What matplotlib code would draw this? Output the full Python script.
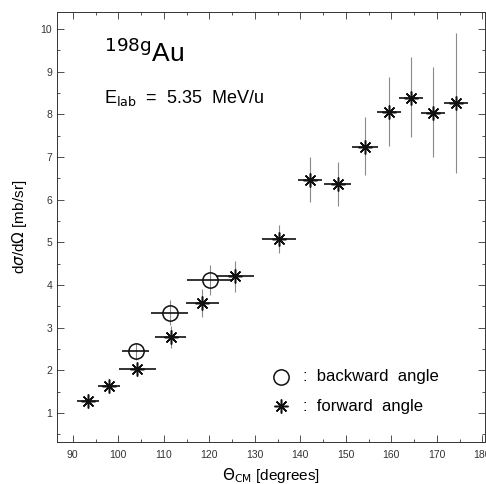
import matplotlib.pyplot as plt
from matplotlib import rcParams
from matplotlib.ticker import MultipleLocator

rcParams['font.family'] = ['Liberation Sans', 'DejaVu Sans']

# forward angle data (stars)
fwd_theta = [93.3, 97.9, 104.2, 111.5, 118.5, 125.6, 135.3, 142.1, 148.2, 154.2, 159.5, 164.3, 169.1, 174.2]
fwd_sigma = [1.29, 1.62, 2.04, 2.78, 3.58, 4.20, 5.07, 6.46, 6.37, 7.24, 8.06, 8.38, 8.03, 8.27]
fwd_xerr = [2.4, 2.4, 4.0, 3.4, 3.6, 4.2, 3.7, 2.7, 3.0, 2.8, 2.6, 2.6, 2.6, 2.6]
fwd_ylo = [0.12, 0.10, 0.12, 0.25, 0.33, 0.37, 0.33, 0.51, 0.52, 0.66, 0.80, 0.91, 1.03, 1.64]
fwd_yhi = [0.15, 0.10, 0.12, 0.25, 0.33, 0.37, 0.33, 0.54, 0.52, 0.70, 0.82, 0.96, 1.08, 1.63]

# backward angle data (circles)
bwd_theta = [103.8, 111.3, 120.1]
bwd_sigma = [2.44, 3.35, 4.12]
bwd_xerr = [3.0, 4.0, 5.0]
bwd_yerr = [0.2, 0.3, 0.35]

fig = plt.figure(figsize=(4.86, 4.84), dpi=100)
ax = fig.add_axes([0.117, 0.087, 0.88, 0.888])

# vertical error bars (thin, grey)
ax.errorbar(fwd_theta, fwd_sigma, yerr=[fwd_ylo, fwd_yhi], fmt='none',
            ecolor='#8a8a8a', elinewidth=0.8, capsize=0)
ax.errorbar(bwd_theta, bwd_sigma, yerr=bwd_yerr, fmt='none',
            ecolor='#8a8a8a', elinewidth=0.8, capsize=0)
# horizontal error bars
ax.errorbar(fwd_theta, fwd_sigma, xerr=fwd_xerr, fmt='none',
            ecolor='#111111', elinewidth=1.2, capsize=0)
ax.errorbar(bwd_theta, bwd_sigma, xerr=bwd_xerr, fmt='none',
            ecolor='#111111', elinewidth=1.2, capsize=0)

ax.plot(fwd_theta, fwd_sigma, ls='none', marker=(8, 2, 0), ms=10,
        mec='#111111', mew=1.1, color='#111111')
ax.plot(bwd_theta, bwd_sigma, ls='none', marker='o', ms=11,
        mfc='none', mec='#111111', mew=1.1)

ax.set_xlim(86.5, 180.5)
ax.set_ylim(0.32, 10.4)
ax.xaxis.set_major_locator(MultipleLocator(10))
ax.xaxis.set_minor_locator(MultipleLocator(5))
ax.yaxis.set_major_locator(MultipleLocator(1))
ax.yaxis.set_minor_locator(MultipleLocator(0.5))
ax.tick_params(which='both', direction='in', top=True, right=True,
               labelsize=7.5, colors='#333333', width=0.6)
ax.tick_params(which='major', length=5)
ax.tick_params(which='minor', length=2.5)
ax.tick_params(axis='x', pad=6)
for s in ax.spines.values():
    s.set_linewidth(0.7)
    s.set_color('#333333')

ax.set_xlabel(r'$\Theta_{\mathrm{CM}}$ [degrees]', fontsize=11, labelpad=4)
ax.set_ylabel(r'd$\sigma$/d$\Omega$ [mb/sr]', fontsize=11, labelpad=8)

ax.text(0.11, 0.905, r'$^{\mathrm{198g}}$Au', transform=ax.transAxes,
        fontsize=19, va='center', ha='left')
ax.text(0.11, 0.80, r'E$_{\mathrm{lab}}$  =  5.35  MeV/u', transform=ax.transAxes,
        fontsize=13, va='center', ha='left')

# legend
ax.plot([0.525], [0.152], transform=ax.transAxes, marker='o', ms=11,
        mfc='none', mec='#111111', mew=1.1, clip_on=False)
ax.plot([0.525], [0.083], transform=ax.transAxes, marker=(8, 2, 0), ms=10,
        mec='#111111', mew=1.1)
ax.text(0.575, 0.152, ':  backward  angle', transform=ax.transAxes,
        fontsize=12, va='center', ha='left')
ax.text(0.575, 0.083, ':  forward  angle', transform=ax.transAxes,
        fontsize=12, va='center', ha='left')

fig.savefig('out.png', dpi=100)
